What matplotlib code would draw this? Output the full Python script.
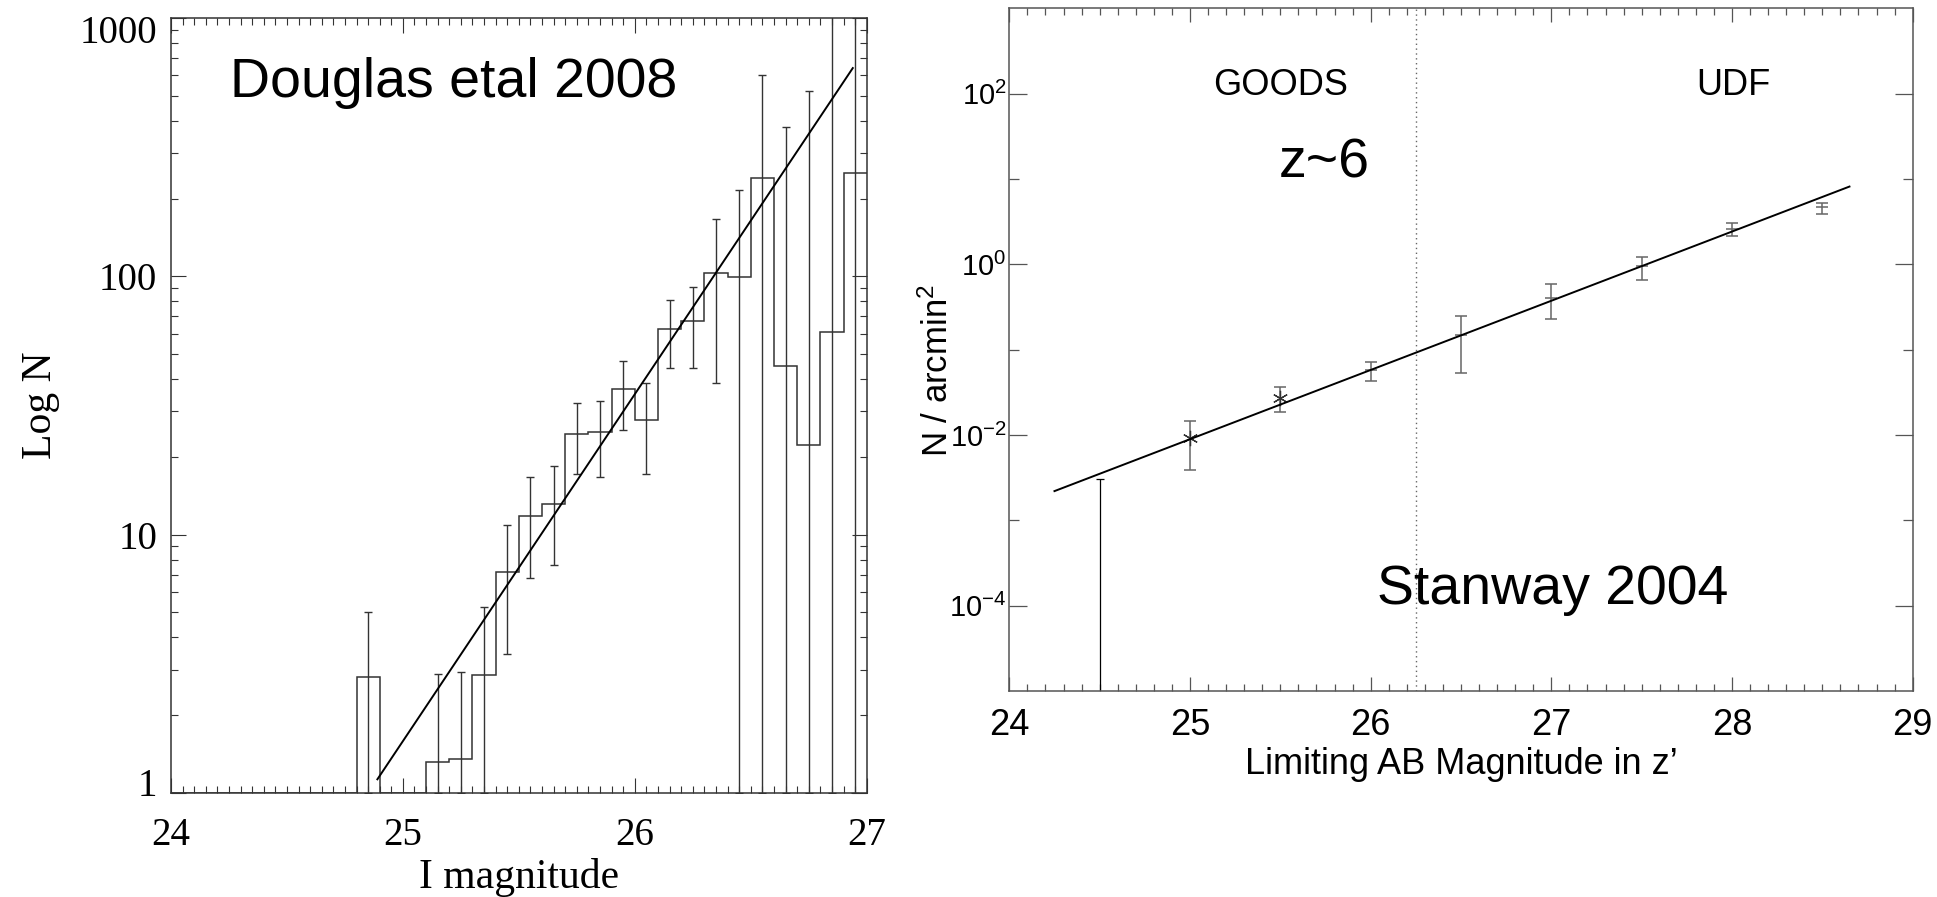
import matplotlib
matplotlib.use("Agg")
import matplotlib.pyplot as plt
import matplotlib.transforms as mtransforms
import numpy as np
from matplotlib.ticker import MultipleLocator, NullFormatter

plt.rcParams["mathtext.fontset"] = "custom"
plt.rcParams["mathtext.rm"] = "Liberation Sans"
plt.rcParams["mathtext.it"] = "Liberation Sans:italic"

SERIF = "Liberation Serif"
SANS = "Liberation Sans"

# left panel: Douglas et al 2008, number counts in 0.1 mag bins (24.0 - 27.0)
bin_edges = np.round(np.arange(24.0, 27.05, 0.1), 2)
counts = [0, 0, 0, 0, 0, 0, 0, 0,
          2.8, 0, 0, 1.32, 1.35, 2.86, 7.2, 11.8, 13.1, 24.6, 24.9, 36.5,
          27.9, 62.8, 67.2, 103, 99.4, 240, 45, 22.3, 61, 252]

err_mag = [24.85, 25.15, 25.25, 25.35, 25.45, 25.55, 25.65, 25.75, 25.85, 25.95,
           26.05, 26.15, 26.25, 26.35, 26.45, 26.55, 26.65, 26.75, 26.85, 26.95]
err_n = [2.8, 1.32, 1.35, 2.86, 7.2, 11.8, 13.1, 24.6, 24.9, 36.5,
         27.9, 62.8, 67.2, 103, 99.4, 240, 45, 22.3, 61, 252]
err_low = [1, 1, 1, 1, 3.45, 6.8, 7.6, 17.2, 16.7, 25.4,
           17.2, 44.2, 44.2, 38.5, 1, 1, 1, 1, 1, 1]
err_high = [5.04, 2.9, 2.95, 5.25, 10.9, 16.7, 18.5, 32.4, 32.9, 46.9,
            38.5, 81.3, 91, 166, 216, 604, 378, 524, 3000, 3000]

fit_left_x = [24.89, 26.94]
fit_left_y = [1.13, 640]

# right panel: Stanway 2004, z~6 surface density
z_mag = [25.0, 25.5, 26.0, 26.5, 27.0, 27.5, 28.0, 28.5]
z_density = [9.1e-3, 0.0274, 0.058, 0.15, 0.40, 0.955, 2.58, 4.67]
z_low = [3.9e-3, 0.0185, 0.0434, 0.053, 0.228, 0.65, 2.15, 3.89]
z_high = [0.0146, 0.0369, 0.0725, 0.245, 0.59, 1.23, 3.08, 5.28]
star_points = 2  # first two points drawn as asterisks

limit_mag = 24.5
limit_density = 3.05e-3

fit_right_x = [24.25, 28.65]
fit_right_y = [2.2e-3, 8.15]

goods_udf_split = 26.25

W, H = 1937, 897
fig = plt.figure(figsize=(W / 100, H / 100), dpi=100)


def fx(px):
    return px / W


def fy(py):
    return 1 - py / H


# ---------------- left panel ----------------
ax1 = fig.add_axes([fx(171), fy(793), fx(866.7 - 171), (793 - 18) / H])
dark = "#333333"
ax1.stairs(np.maximum(counts, 1), bin_edges, color=dark, linewidth=1.1, baseline=None)
n = np.array(err_n)
ax1.errorbar(err_mag, n, yerr=[n - np.array(err_low), np.array(err_high) - n],
             fmt="none", ecolor=dark, elinewidth=1.0, capsize=3.2, capthick=1.0)
ax1.plot(fit_left_x, fit_left_y, color="black", linewidth=1.4)

ax1.set_yscale("log")
ax1.set_xlim(24, 27)
ax1.set_ylim(1, 1000)
ax1.set_xticks([24, 25, 26, 27])
ax1.set_xticklabels(["24", "25", "26", "27"])
ax1.xaxis.set_minor_locator(MultipleLocator(0.05))
ax1.set_yticks([1, 10, 100, 1000])
ax1.set_yticklabels(["1", "10", "100", "1000"])
ax1.yaxis.set_minor_formatter(NullFormatter())
ax1.tick_params(which="both", direction="in", top=True, right=True,
                color=dark, width=0.8)
ax1.tick_params(which="major", length=11, labelsize=28)
ax1.tick_params(which="minor", length=5)
ax1.tick_params(axis="x", which="major", pad=17)
ax1.tick_params(axis="y", which="major", pad=10)
for lab in ax1.get_xticklabels() + ax1.get_yticklabels():
    lab.set_family(SERIF)
# end labels sit slightly inside the axis range, as in the original plot
ylabs = ax1.get_yticklabels()
ylabs[0].set_transform(ylabs[0].get_transform()
                       + mtransforms.ScaledTranslation(0, 0.11, fig.dpi_scale_trans))
ylabs[-1].set_transform(ylabs[-1].get_transform()
                        + mtransforms.ScaledTranslation(0, -0.11, fig.dpi_scale_trans))
for sp in ax1.spines.values():
    sp.set_color(dark)
    sp.set_linewidth(1.1)
ax1.set_xlabel("I magnitude", family=SERIF, fontsize=30, labelpad=3)
ax1.set_ylabel("Log N", family=SERIF, fontsize=30, labelpad=14)

fig.text(fx(230), fy(97), "Douglas etal 2008", family=SANS, fontsize=40,
         ha="left", va="baseline")

# ---------------- right panel ----------------
ax2 = fig.add_axes([fx(1009.3), fy(691), fx(1912.7 - 1009.3), (691 - 8.3) / H])
grey = "#555555"
ax2.axvline(goods_udf_split, color="#666666", linestyle=(0, (1, 2.5)), linewidth=1.0)
ax2.plot(fit_right_x, fit_right_y, color="black", linewidth=1.4, zorder=3)

zd = np.array(z_density)
zerr = [zd - np.array(z_low), np.array(z_high) - zd]
ax2.errorbar(z_mag, zd, yerr=zerr, fmt="none", ecolor="#666666",
             elinewidth=1.1, capsize=4, capthick=1.1)
ax2.plot(z_mag[:star_points], z_density[:star_points], linestyle="none",
         marker=(6, 2, 0), markersize=11, markeredgewidth=0.9, color="#333333")
ax2.plot(z_mag[star_points:], z_density[star_points:], linestyle="none",
         marker="_", markersize=8, markeredgewidth=1.1, color="#666666")
ax2.errorbar([limit_mag], [limit_density], yerr=[[limit_density - 1e-6], [0]],
             fmt="none", ecolor="black", elinewidth=0.9, capsize=3, capthick=0.9)

ax2.set_yscale("log")
ax2.set_xlim(24, 29)
ax2.set_ylim(1e-5, 1e3)
ax2.set_xticks([24, 25, 26, 27, 28, 29])
ax2.set_xticklabels(["24", "25", "26", "27", "28", "29"])
ax2.xaxis.set_minor_locator(MultipleLocator(0.1))
ax2.set_yticks([1e-4, 1e-2, 1e0, 1e2])
ax2.set_yticklabels(["10$^{-4}$", "10$^{-2}$", "10$^{0}$", "10$^{2}$"])
ax2.set_yticks([1e-3, 1e-1, 1e1], minor=True)
ax2.yaxis.set_minor_formatter(NullFormatter())
ax2.tick_params(which="both", direction="in", top=True, right=True,
                color=grey, width=0.9)
ax2.tick_params(axis="x", which="major", length=10, labelsize=26, pad=12)
ax2.tick_params(axis="x", which="minor", length=5)
ax2.tick_params(axis="y", which="major", length=13, labelsize=21, pad=2)
ax2.tick_params(axis="y", which="minor", length=7)
for lab in ax2.get_xticklabels() + ax2.get_yticklabels():
    lab.set_family(SANS)
for sp in ax2.spines.values():
    sp.set_color(grey)
    sp.set_linewidth(1.1)
ax2.set_xlabel("Limiting AB Magnitude in z\u2019", family=SANS, fontsize=26, labelpad=3)
ax2.set_ylabel("N / arcmin$^2$", family=SANS, fontsize=25)
ax2.yaxis.set_label_coords((955 - 1009.3) / 903.4, 0.47)

fig.text(fx(1213), fy(95), "GOODS", family=SANS, fontsize=26, va="baseline")
fig.text(fx(1696), fy(95), "UDF", family=SANS, fontsize=26, va="baseline")
fig.text(fx(1279), fy(178), "z~6", family=SANS, fontsize=40, va="baseline")
fig.text(fx(1377), fy(604), "Stanway 2004", family=SANS, fontsize=40, va="baseline")

fig.savefig("out.png", dpi=100)
